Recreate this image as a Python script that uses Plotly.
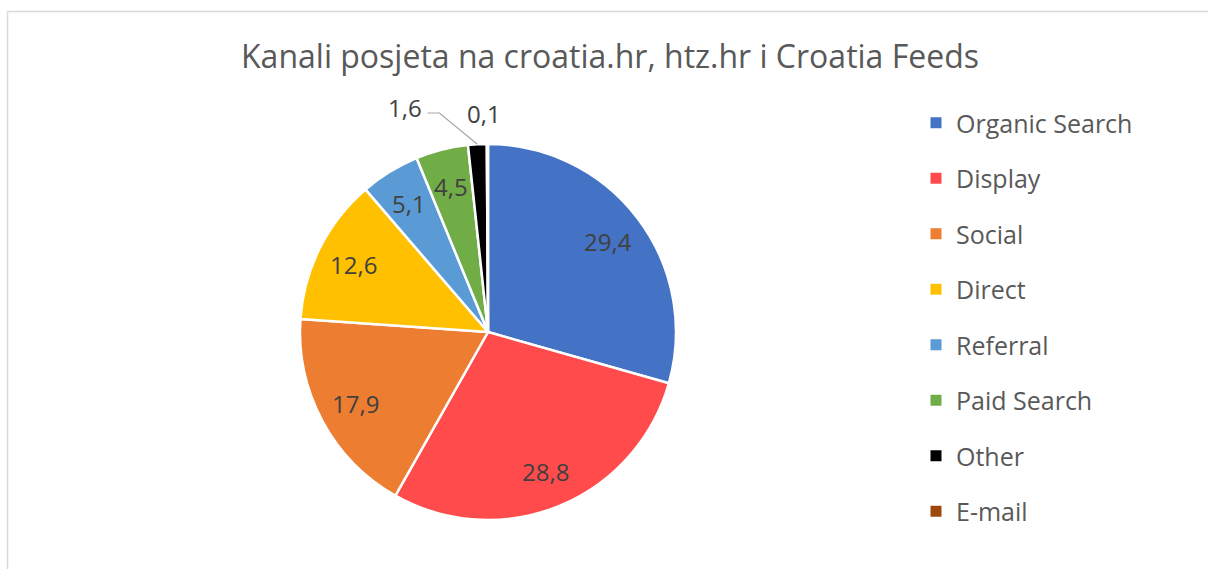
import math
import plotly.graph_objects as go

title = "Kanali posjeta na croatia.hr, htz.hr i Croatia Feeds"
labels = ["Organic Search", "Display", "Social", "Direct", "Referral", "Paid Search", "Other", "E-mail"]
values = [29.4, 28.8, 17.9, 12.6, 5.1, 4.5, 1.6, 0.1]
colors = ["#4472C4", "#FF4B4B", "#ED7D31", "#FFC000", "#5B9BD5", "#70AD47", "#000000", "#9E480E"]

W, H = 1208, 569
FONT = "Open Sans, sans-serif"
GRAY = "#595959"
LABEL_GRAY = "#404040"

# pie geometry (pixels, margins are zero so paper == pixels)
CX, CY, R = 488, 332, 188
INSIDE_R = 0.80
# outside label placement for the two tiny slices: (radius factor, angle shift in degrees)
OUTSIDE = {6: (1.27, -17.0), 7: (1.16, -1.0)}


def px(x):
    return x / W


def py(y):
    return 1 - y / H


fig = go.Figure()
fig.add_trace(go.Pie(
    labels=labels, values=values, sort=False, direction="clockwise", rotation=0,
    marker=dict(colors=colors, line=dict(color="white", width=2.5)),
    textinfo="none",
    showlegend=False, hoverinfo="label+value",
    domain=dict(x=[px(CX - R), px(CX + R)], y=[py(CY + R), py(CY - R)]),
))

# value labels positioned from the slice mid-angles
total = sum(values)
annotations = []
shapes = []
cum = 0.0
for i, v in enumerate(values):
    mid = (cum + v / 2) / total * 360.0
    cum += v
    txt = f"{v:.1f}".replace(".", ",")
    if i in OUTSIDE:
        rf, shift = OUTSIDE[i]
        a = math.radians(mid + shift)
        lx, ly = CX + rf * R * math.sin(a), CY - rf * R * math.cos(a)
        if shift < -5:
            am = math.radians(mid)
            ex, ey = CX + R * math.sin(am), CY - R * math.cos(am)
            sx, sy = lx + 22, ly + 5
            path = f"M {px(sx)},{py(sy)} L {px(sx + 12)},{py(sy)} L {px(ex)},{py(ey)}"
            shapes.append(dict(type="path", xref="paper", yref="paper", path=path,
                               line=dict(color="#A6A6A6", width=1.2)))
    else:
        a = math.radians(mid)
        lx, ly = CX + INSIDE_R * R * math.sin(a), CY - INSIDE_R * R * math.cos(a)
    annotations.append(dict(text=txt, x=px(lx), y=py(ly), xref="paper", yref="paper",
                            xanchor="center", yanchor="middle",
                            showarrow=False, font=dict(size=24, color=LABEL_GRAY, family=FONT)))

# legend entries as dummy traces so the spacing can match
for lab, col in zip(labels, colors):
    fig.add_trace(go.Scatter(
        x=[None], y=[None], mode="markers", name=lab, legendgroup=lab,
        marker=dict(symbol="square", size=11, color=col),
    ))

shapes += [
    dict(type="line", xref="paper", yref="paper", x0=px(7.5), x1=1.0, y0=py(11.5), y1=py(11.5),
         line=dict(color="#D9D9D9", width=1.5)),
    dict(type="line", xref="paper", yref="paper", x0=px(7.5), x1=px(7.5), y0=0, y1=py(11.5),
         line=dict(color="#D9D9D9", width=1.5)),
]
annotations.append(dict(text="<b>Grafikon 1</b>", x=px(1160), xanchor="right", y=py(5), yanchor="bottom",
                        xref="paper", yref="paper", showarrow=False,
                        font=dict(size=16, color="#000000", family=FONT)))

fig.update_layout(
    width=W, height=H, margin=dict(l=0, r=0, t=0, b=0),
    paper_bgcolor="white", plot_bgcolor="white",
    title=dict(text=title, x=px(610), xanchor="center", y=py(57), yanchor="middle",
               font=dict(size=32, color=GRAY, family=FONT)),
    xaxis=dict(visible=False), yaxis=dict(visible=False),
    legend=dict(x=px(916), y=py(100), xanchor="left", yanchor="top",
                font=dict(size=25, color=GRAY, family=FONT),
                tracegroupgap=20, itemclick=False, bgcolor="rgba(0,0,0,0)"),
    shapes=shapes,
    annotations=annotations,
)

fig.write_html("out.html", config={"displayModeBar": False},
               post_script="document.body.style.margin='0px';")
